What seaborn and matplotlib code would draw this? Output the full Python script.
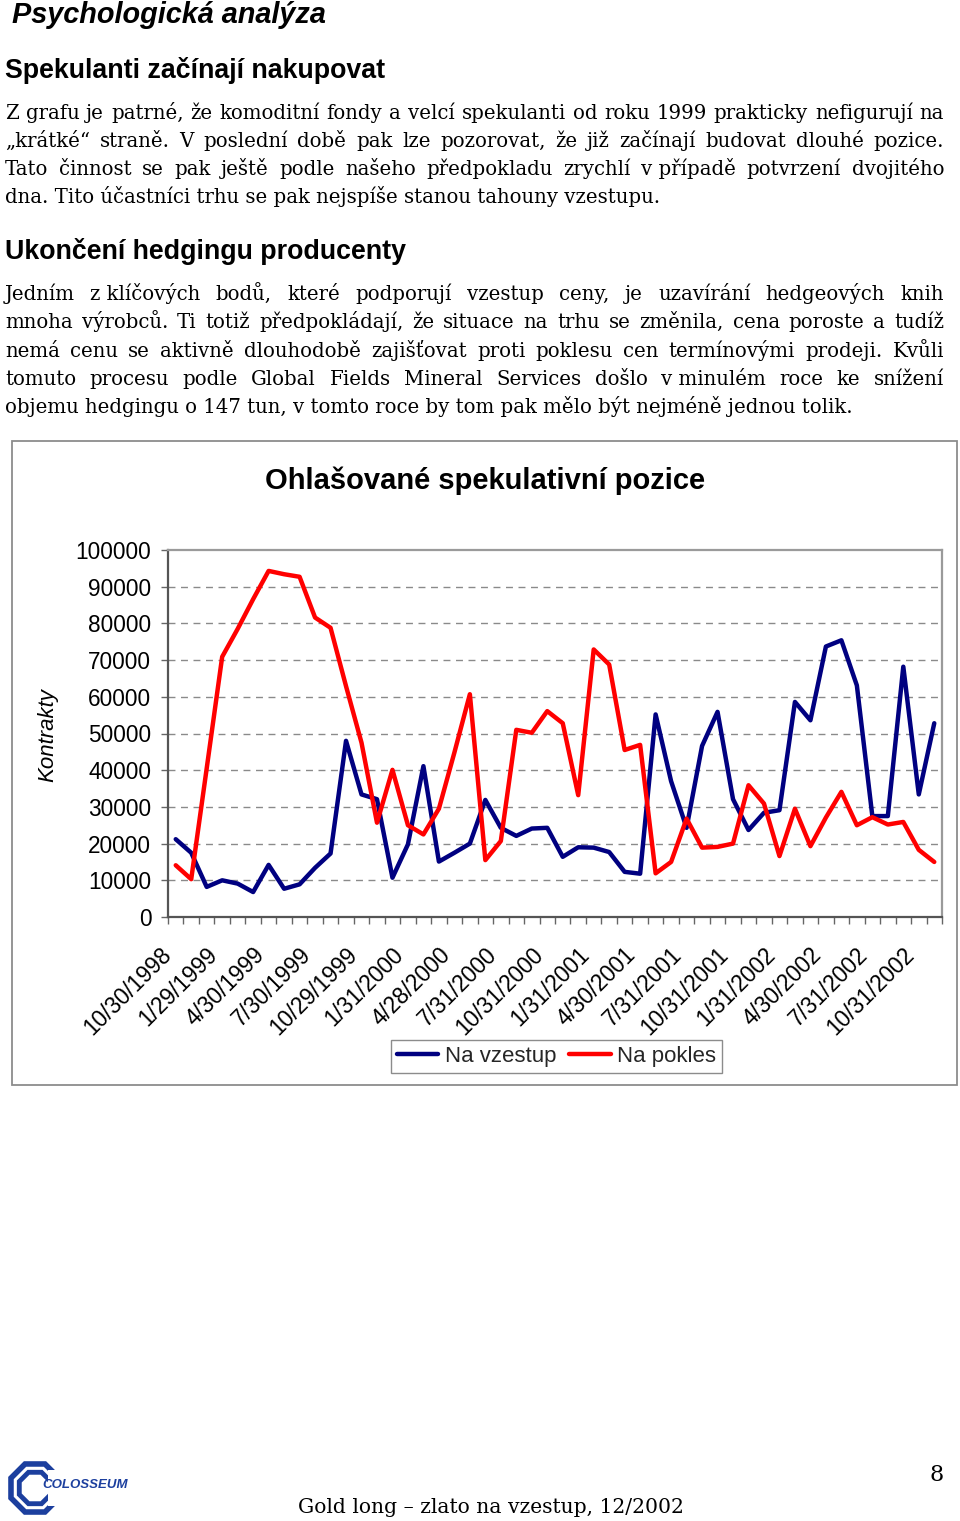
import numpy as np
import pandas as pd
import matplotlib
matplotlib.use("Agg")
import matplotlib.pyplot as plt
import matplotlib.patches as mpatches
import matplotlib.transforms as mtransforms
import seaborn as sns

# ---------------- data ----------------
dates = ["10/30/1998", "11/30/1998", "12/31/1998", "1/29/1999", "2/26/1999", "3/31/1999",
         "4/30/1999", "5/28/1999", "6/30/1999", "7/30/1999", "8/31/1999", "9/30/1999",
         "10/29/1999", "11/30/1999", "12/31/1999", "1/31/2000", "2/29/2000", "3/31/2000",
         "4/28/2000", "5/31/2000", "6/30/2000", "7/31/2000", "8/31/2000", "9/29/2000",
         "10/31/2000", "11/30/2000", "12/29/2000", "1/31/2001", "2/28/2001", "3/30/2001",
         "4/30/2001", "5/31/2001", "6/29/2001", "7/31/2001", "8/31/2001", "9/28/2001",
         "10/31/2001", "11/30/2001", "12/31/2001", "1/31/2002", "2/28/2002", "3/28/2002",
         "4/30/2002", "5/31/2002", "6/28/2002", "7/31/2002", "8/30/2002", "9/30/2002",
         "10/31/2002", "11/29/2002"]

na_vzestup = [21200, 17500, 8200, 10000, 9100, 6800, 14200, 7700, 8900, 13400,
              17300, 48000, 33400, 32100, 10700, 19800, 41100, 15100, 17500, 20000,
              31900, 24300, 22100, 24100, 24300, 16400, 19000, 18900, 17700, 12300,
              11800, 55200, 37000, 24300, 46600, 55900, 32100, 23700, 28400, 29100,
              58600, 53600, 73700, 75400, 63100, 27500, 27500, 68200, 33400, 52800]

na_pokles = [14100, 10300, 40500, 70900, 78500, 86600, 94300, 93400, 92700, 81600,
             78800, 62900, 47500, 25700, 40100, 25000, 22500, 29500, 44800, 60700,
             15500, 20700, 51000, 50200, 56100, 52800, 33200, 72900, 68800, 45500,
             46900, 11900, 15000, 26800, 18900, 19100, 20000, 35900, 30900, 16600,
             29500, 19300, 27100, 34100, 25000, 27200, 25200, 25900, 18300, 15000]

series_names = ["Na vzestup", "Na pokles"]
series_colors = ["#000080", "#FF0000"]
y_ticks = [0, 10000, 20000, 30000, 40000, 50000, 60000, 70000, 80000, 90000, 100000]

chart_title = "Ohlašované spekulativní pozice"
y_label = "Kontrakty"

page_title = "Psychologická analýza"
heading1 = "Spekulanti začínají nakupovat"
para1 = ["Z grafu je patrné, že komoditní fondy a velcí spekulanti od roku 1999 prakticky nefigurují na",
         "„krátké“ straně. V poslední době pak lze pozorovat, že již začínají budovat dlouhé pozice.",
         "Tato činnost se pak ještě podle našeho předpokladu zrychlí v\u00a0případě potvrzení dvojitého",
         "dna. Tito účastníci trhu se pak nejspíše stanou tahouny vzestupu."]
heading2 = "Ukončení hedgingu producenty"
para2 = ["Jedním z\u00a0klíčových bodů, které podporují vzestup ceny, je uzavírání hedgeových knih",
         "mnoha výrobců. Ti totiž předpokládají, že situace na trhu se změnila, cena poroste a tudíž",
         "nemá cenu se aktivně dlouhodobě zajišťovat proti poklesu cen termínovými prodeji. Kvůli",
         "tomuto procesu podle Global Fields Mineral Services došlo v\u00a0minulém roce ke snížení",
         "objemu hedgingu o 147 tun, v tomto roce by tom pak mělo být nejméně jednou tolik."]
footer = "Gold long – zlato na vzestup, 12/2002"
page_no = "8"

# ---------------- figure ----------------
sns.set_style("white")
plt.rcParams["font.family"] = ["Liberation Sans", "DejaVu Sans"]

W, H = 960, 1521
fig = plt.figure(figsize=(W / 100, H / 100), dpi=100)
fig.patch.set_facecolor("white")


def fx(x):
    return x / W


def fy(y):
    return 1 - y / H


SANS = ["Liberation Sans", "DejaVu Sans"]
SERIF = ["DejaVu Serif", "Liberation Serif"]

# Page headings
fig.text(fx(12), fy(23), page_title, fontsize=20.8, fontweight="bold", fontstyle="italic",
         family=SANS, va="baseline", ha="left", color="black")
fig.text(fx(5), fy(78), heading1, fontsize=19.3, fontweight="bold", family=SANS,
         va="baseline", ha="left", color="black")
fig.text(fx(5), fy(259), heading2, fontsize=19.3, fontweight="bold", family=SANS,
         va="baseline", ha="left", color="black")

renderer = fig.canvas.get_renderer()
BODY = 14.2


def draw_line(text, x0, x1, y, justify, size=BODY):
    if not justify:
        fig.text(fx(x0), fy(y), text, fontsize=size, family=SERIF, va="baseline", ha="left",
                 color="black")
        return
    words = text.split(" ")
    objs = []
    widths = []
    for w in words:
        t = fig.text(0, fy(y), w, fontsize=size, family=SERIF, va="baseline", ha="left",
                     color="black")
        objs.append(t)
        widths.append(t.get_window_extent(renderer).width)
    gap = (x1 - x0 - sum(widths)) / (len(words) - 1)
    x = x0
    for t, wd in zip(objs, widths):
        t.set_x(fx(x))
        x += wd + gap


for i, line in enumerate(para1):
    draw_line(line, 5, 944, 119 + 28 * i, justify=(i < len(para1) - 1))
for i, line in enumerate(para2):
    draw_line(line, 5, 944, 300 + 28.3 * i, justify=(i < len(para2) - 1))

# Chart frame
frame = mpatches.Rectangle((fx(12), fy(1085)), fx(945), (1085 - 441) / H,
                           transform=fig.transFigure, fill=False, edgecolor="#8c8c8c",
                           linewidth=1.3, zorder=0)
fig.patches.append(frame)

fig.text(fx(485), fy(489), chart_title, fontsize=21, fontweight="bold", family=SANS,
         ha="center", va="baseline", color="black")
fig.text(fx(48), fy(735), y_label, fontsize=16, fontstyle="italic", family=SANS,
         rotation=90, ha="center", va="center", color="black")

# Plot axes
ax = fig.add_axes([fx(168), fy(917), (942 - 168) / W, (917 - 550) / H])

n = len(dates)
df = pd.DataFrame({
    "idx": np.concatenate([np.arange(n), np.arange(n)]),
    "value": na_vzestup + na_pokles,
    "series": [series_names[0]] * n + [series_names[1]] * n,
})
sns.lineplot(data=df, x="idx", y="value", hue="series", hue_order=series_names,
             palette=dict(zip(series_names, series_colors)), linewidth=3.2, ax=ax,
             legend=True)

ax.set_xlim(-0.5, n - 0.5)
ax.set_ylim(0, 100000)
ax.set_yticks(y_ticks)
ax.set_yticklabels([str(v) for v in y_ticks])
ax.set_xlabel("")
ax.set_ylabel("")

major = list(range(0, n, 3))
ax.set_xticks(major)
ax.set_xticklabels([dates[i] for i in major], rotation=45, ha="right",
                   rotation_mode="anchor")
ax.set_xticks(np.arange(-0.5, n, 1), minor=True)
ax.tick_params(axis="x", which="major", length=0, pad=19, labelsize=16.3, labelcolor="black")
ax.tick_params(axis="x", which="minor", length=5, width=1, color="#666666", direction="out",
               bottom=True)
ax.tick_params(axis="y", which="major", length=5, width=1, color="#666666", direction="out",
               left=True, pad=7, labelsize=16.3, labelcolor="black")

shift = mtransforms.ScaledTranslation(-16 / 100, 0, fig.dpi_scale_trans)
for lab in ax.get_xticklabels():
    lab.set_family(SANS)
    lab.set_transform(lab.get_transform() + shift)
for lab in ax.get_yticklabels():
    lab.set_family(SANS)

ax.grid(False)
for yv in y_ticks[1:-1]:
    ax.axhline(yv, color="#8a8a8a", linewidth=1, linestyle=(0, (5, 4)), zorder=0)

for side in ["left", "bottom"]:
    ax.spines[side].set_color("#555555")
    ax.spines[side].set_linewidth(1.6)
for side in ["top", "right"]:
    ax.spines[side].set_color("#9a9a9a")
    ax.spines[side].set_linewidth(1.6)

sns.move_legend(ax, "center", bbox_to_anchor=(fx(556.5), fy(1056.5)),
                bbox_transform=fig.transFigure, ncol=2, title=None, frameon=True,
                fontsize=16, handlelength=1.85, handletextpad=0.3, columnspacing=0.6,
                borderpad=0.25, fancybox=False, edgecolor="#8c8c8c", framealpha=1)
leg = ax.get_legend()
leg.get_frame().set_linewidth(1.0)
for line in leg.get_lines():
    line.set_linewidth(3.2)

# Footer logo
lax = fig.add_axes([fx(8), fy(1518), 110 / W, 60 / H])
lax.set_xlim(0, 110)
lax.set_ylim(0, 60)
lax.axis("off")
for r, lw in [(26, 4.0), (17, 3.5)]:
    poly = mpatches.RegularPolygon((27, 30), numVertices=8, radius=r, orientation=np.pi / 8,
                                   fill=False, edgecolor="#1c3f9e", linewidth=lw)
    lax.add_patch(poly)
lax.add_patch(mpatches.Rectangle((40, 12), 72, 36, facecolor="white", edgecolor="none"))
lax.text(34, 33, "COLOSSEUM", fontsize=9.5, fontweight="bold", fontstyle="italic",
         color="#1c3f9e", family=SANS, ha="left", va="center")

fig.text(fx(491), fy(1513), footer, fontsize=14.6, family=SERIF, ha="center", va="baseline",
         color="black")
fig.text(fx(944), fy(1481), page_no, fontsize=16, family=SERIF, ha="right", va="baseline",
         color="black")

fig.savefig("out.png", dpi=100, facecolor="white")
